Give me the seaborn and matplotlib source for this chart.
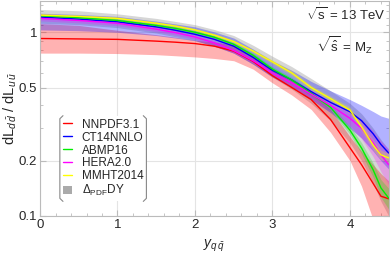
import numpy as np
import pandas as pd
import seaborn as sns
import matplotlib
matplotlib.use("Agg")
import matplotlib.pyplot as plt
from matplotlib.patches import Patch
from matplotlib.lines import Line2D
from matplotlib.ticker import FixedLocator, NullFormatter

# rapidity grid and luminosity ratios
y_qq = [0, 0.5, 1, 1.5, 1.75, 2, 2.25, 2.5, 2.75, 3, 3.25, 3.5, 3.75, 4, 4.15, 4.3, 4.4, 4.5]

nnpdf = [0.925, 0.92, 0.915, 0.895, 0.883, 0.868, 0.84, 0.79, 0.695, 0.58, 0.50, 0.43, 0.335, 0.235, 0.19, 0.15, 0.128, 0.124]
ct14 = [1.21, 1.18, 1.14, 1.07, 1.025, 0.975, 0.915, 0.84, 0.73, 0.62, 0.55, 0.475, 0.415, 0.369, 0.33, 0.28, 0.245, 0.22]
abmp = [1.23, 1.20, 1.16, 1.09, 1.05, 1.0, 0.94, 0.86, 0.75, 0.63, 0.55, 0.465, 0.39, 0.293, 0.234, 0.178, 0.142, 0.125]
hera = [1.19, 1.16, 1.12, 1.04, 0.995, 0.943, 0.875, 0.795, 0.70, 0.60, 0.53, 0.46, 0.40, 0.34, 0.30, 0.25, 0.215, 0.19]
mmht = [1.24, 1.22, 1.19, 1.12, 1.08, 1.03, 0.965, 0.89, 0.79, 0.69, 0.60, 0.50, 0.435, 0.377, 0.305, 0.243, 0.215, 0.207]

# uncertainty bands
nnpdf_lo = [0.77, 0.77, 0.766, 0.755, 0.745, 0.734, 0.72, 0.70, 0.63, 0.53, 0.455, 0.38, 0.285, 0.20, 0.145, 0.095, 0.08, 0.07]
nnpdf_hi = [1.115, 1.09, 1.025, 0.97, 0.94, 0.905, 0.885, 0.855, 0.75, 0.63, 0.55, 0.475, 0.38, 0.27, 0.225, 0.19, 0.17, 0.155]
ct14_lo = [1.03, 1.02, 1.0, 0.96, 0.93, 0.90, 0.84, 0.77, 0.67, 0.57, 0.50, 0.43, 0.365, 0.30, 0.265, 0.225, 0.20, 0.18]
ct14_hi = [1.27, 1.25, 1.22, 1.15, 1.11, 1.07, 1.005, 0.93, 0.81, 0.70, 0.62, 0.54, 0.48, 0.43, 0.40, 0.37, 0.35, 0.34]
dy_lo = [1.12, 1.10, 1.06, 0.99, 0.945, 0.90, 0.84, 0.77, 0.67, 0.57, 0.49, 0.41, 0.33, 0.25, 0.20, 0.15, 0.12, 0.10]
dy_hi = [1.33, 1.31, 1.26, 1.19, 1.145, 1.10, 1.035, 0.96, 0.85, 0.74, 0.65, 0.56, 0.48, 0.41, 0.36, 0.30, 0.26, 0.23]
hera_err = [0.03, 0.03, 0.03, 0.03, 0.03, 0.03, 0.03, 0.03, 0.03, 0.035, 0.04, 0.05, 0.06, 0.09, 0.12, 0.16, 0.19, 0.22]
abmp_err = [0.02, 0.02, 0.02, 0.02, 0.02, 0.02, 0.02, 0.02, 0.025, 0.03, 0.03, 0.035, 0.04, 0.05, 0.07, 0.09, 0.11, 0.13]
mmht_err = [0.02, 0.02, 0.02, 0.02, 0.02, 0.02, 0.02, 0.02, 0.02, 0.025, 0.03, 0.03, 0.035, 0.04, 0.05, 0.06, 0.06, 0.06]

sets = ["NNPDF3.1", "CT14NNLO", "ABMP16", "HERA2.0", "MMHT2014"]
colors = ["#ff0000", "#0000ff", "#00ee00", "#ff00ff", "#ffff00"]

sns.set_style("ticks")
plt.rcParams['font.family'] = ['Liberation Sans', 'DejaVu Sans']
plt.rcParams['mathtext.fontset'] = 'custom'
plt.rcParams['mathtext.rm'] = 'Liberation Sans'
plt.rcParams['mathtext.it'] = 'Liberation Sans:italic'

fig = plt.figure(figsize=(3.9, 2.54), dpi=100)
ax = fig.add_axes([0.1026, 0.15, 0.894, 0.846])

x = np.array(y_qq)
ax.fill_between(x, dy_lo, dy_hi, color="#999999", alpha=0.4, lw=0)
ax.fill_between(x, nnpdf_lo, nnpdf_hi, color="#ff0000", alpha=0.3, lw=0)
ax.fill_between(x, ct14_lo, ct14_hi, color="#0000ff", alpha=0.3, lw=0)
for vals, err, col in [(abmp, abmp_err, "#00ee00"), (hera, hera_err, "#ff00ff"), (mmht, mmht_err, "#ffff00")]:
    v = np.array(vals)
    e = np.array(err)
    ax.fill_between(x, v * (1 - e), v * (1 + e), color=col, alpha=0.25, lw=0)

df = pd.DataFrame({
    "y": np.tile(x, len(sets)),
    "ratio": np.concatenate([nnpdf, ct14, abmp, hera, mmht]),
    "set": np.repeat(sets, len(x)),
})
sns.lineplot(data=df, x="y", y="ratio", hue="set", hue_order=sets,
             palette=dict(zip(sets, colors)), lw=1.0, ax=ax, legend=False)

ax.set_yscale("log")
ax.set_xlim(0, 4.5)
ax.set_ylim(0.1, 1.48)

ax.yaxis.set_major_locator(FixedLocator([0.1, 0.2, 0.5, 1]))
ax.set_yticklabels(["0.1", "0.2", "0.5", "1"])
ax.yaxis.set_minor_locator(FixedLocator([0.3, 0.4, 0.6, 0.7, 0.8, 0.9, 1.1, 1.2, 1.3, 1.4]))
ax.yaxis.set_minor_formatter(NullFormatter())
ax.set_xticks([0, 1, 2, 3, 4])
ax.xaxis.set_minor_locator(FixedLocator(np.arange(0, 4.6, 0.2)))

ax.grid(True, which="major", color="#e4e4e4", lw=0.8)
ax.set_axisbelow(True)
for sp in ax.spines.values():
    sp.set_color("#bbbbbb")
    sp.set_linewidth(0.8)
ax.tick_params(which="both", direction="in", top=True, right=True, color="#bbbbbb", labelsize=9.5, pad=2)
ax.tick_params(which="major", length=4)
ax.tick_params(which="minor", length=2)

ax.set_xlabel(r"$y_{q\,\bar{q}}$", fontsize=10, labelpad=5)
ax.set_ylabel(r"dL$_{d\,\bar{d}}$ / dL$_{u\,\bar{u}}$", fontsize=10.5, labelpad=0)

ax.text(0.99, 0.935, r"$\sqrt{\mathrm{s}}$ = 13 TeV", transform=ax.transAxes,
        ha="right", va="center", fontsize=9.5)
ax.text(0.955, 0.795, r"$\sqrt{\hat{\mathrm{s}}}$ = M$_\mathrm{Z}$", transform=ax.transAxes,
        ha="right", va="center", fontsize=9.5)

handles = [Line2D([0], [0], color=c, lw=1.0) for c in colors]
handles.append(Patch(facecolor="#aaaaaa", edgecolor="none"))
labels = sets + [r"$\Delta_{\mathrm{PDF}}$DY"]
leg = ax.legend(handles, labels, loc="lower left", bbox_to_anchor=(0.04, 0.04),
                fontsize=8.5, handlelength=0.8, handletextpad=0.8, labelspacing=0.08,
                borderpad=0.25, frameon=True)
leg.get_frame().set_edgecolor("none")
leg.get_frame().set_facecolor("white")
leg.get_frame().set_alpha(1)

# bracket-style frame on the legend, left and right only
fig.canvas.draw()
bb = leg.get_window_extent().transformed(fig.transFigure.inverted())
dx, dy = 0.008, 0.012
for x0, s in [(bb.x0, 1), (bb.x1, -1)]:
    fig.add_artist(Line2D([x0 + s * dx, x0, x0, x0 + s * dx],
                          [bb.y1, bb.y1 - dy, bb.y0 + dy, bb.y0],
                          color="#888888", lw=0.8, transform=fig.transFigure))

fig.savefig("out.png", dpi=100)
